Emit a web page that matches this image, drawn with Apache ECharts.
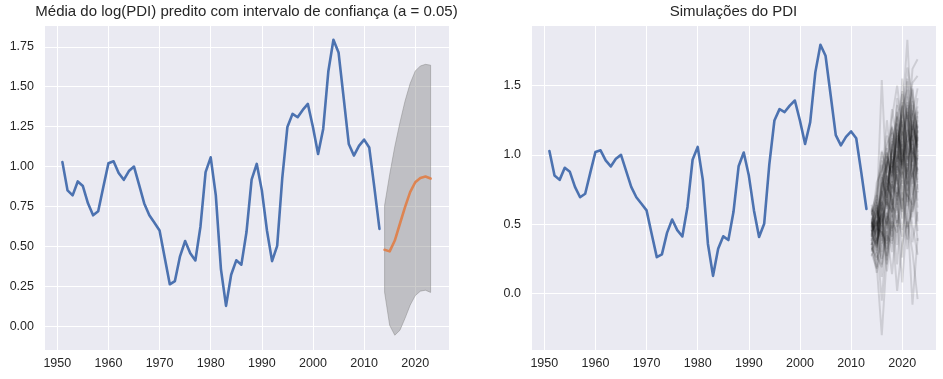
<!DOCTYPE html>
<html><head><meta charset="utf-8">
<script src="https://cdn.jsdelivr.net/npm/echarts@6/dist/echarts.min.js"></script>
<style>html,body{margin:0;padding:0;background:#fff}#c{width:943px;height:379px}</style>
</head><body><div id="c"></div>
<script>
// ---------- data ----------
const histYears = [1951,1952,1953,1954,1955,1956,1957,1958,1959,1960,
  1961,1962,1963,1964,1965,1966,1967,1968,1969,1970,
  1971,1972,1973,1974,1975,1976,1977,1978,1979,1980,
  1981,1982,1983,1984,1985,1986,1987,1988,1989,1990,
  1991,1992,1993,1994,1995,1996,1997,1998,1999,2000,
  2001,2002,2003,2004,2005,2006,2007,2008,2009,2010,
  2011,2012,2013];
const histLogPDI = [1.028,0.851,0.820,0.907,0.878,0.770,0.695,0.720,0.872,1.021,
  1.033,0.960,0.917,0.972,1.000,0.885,0.769,0.695,0.648,0.600,
  0.430,0.263,0.283,0.438,0.534,0.458,0.412,0.625,0.965,1.058,
  0.820,0.358,0.128,0.323,0.413,0.386,0.590,0.918,1.017,0.851,
  0.600,0.408,0.503,0.930,1.248,1.330,1.309,1.355,1.392,1.246,
  1.079,1.236,1.595,1.794,1.715,1.430,1.142,1.069,1.130,1.169,
  1.120,0.870,0.610];
const fcYears = [2014,2015,2016,2017,2018,2019,2020,2021,2022,2023];
const fcMean  = [0.479,0.469,0.537,0.642,0.746,0.840,0.902,0.929,0.938,0.925];
const fcUpper = [0.756,0.950,1.125,1.275,1.410,1.520,1.598,1.630,1.640,1.635];
const fcLower = [0.214,0.006,-0.056,-0.025,0.050,0.132,0.192,0.220,0.226,0.212];
const simPaths = [
  [0.45,0.62,0.38,0.81,0.95,0.72,1.10,0.88,1.21,1.05],
  [0.52,0.31,0.66,0.49,0.88,1.12,0.79,1.34,1.02,0.96],
  [0.38,0.55,0.12,0.58,0.47,0.93,1.25,0.71,0.64,1.18],
  [0.61,0.44,0.79,0.95,0.63,0.58,0.97,1.15,1.39,0.82],
  [0.29,0.18,0.45,0.32,0.71,0.86,0.54,0.99,0.77,1.28],
  [0.47,0.70,0.93,0.61,1.08,0.81,1.29,1.06,0.90,0.67],
  [0.55,0.39,-0.05,0.42,0.36,0.69,0.82,0.48,1.11,0.88],
  [0.41,0.58,0.71,1.02,0.84,1.19,0.95,1.42,1.18,1.35],
  [0.64,0.49,0.57,0.38,0.92,0.64,1.08,0.85,0.59,0.74],
  [0.33,0.26,0.84,0.71,0.55,1.03,0.67,1.22,1.47,1.09],
  [0.49,0.66,0.41,0.89,1.21,0.97,1.38,1.02,0.83,1.14],
  [0.42,0.35,0.62,0.27,0.68,0.51,0.88,0.63,1.05,0.52],
  [0.58,0.74,1.02,0.83,0.76,1.31,1.14,1.55,1.28,1.06],
  [0.36,0.15,0.33,0.56,0.41,0.77,0.59,0.94,0.71,0.98],
  [0.51,0.43,0.70,1.14,0.97,0.79,1.22,0.86,1.16,1.41],
  [0.27,0.40,0.25,0.48,0.81,0.62,0.46,0.81,0.37,0.59],
  [0.46,0.59,1.54,0.77,1.05,1.27,0.92,1.18,0.98,0.80],
  [0.39,0.21,-0.30,0.29,0.52,0.44,0.73,0.39,0.68,0.91],
  [0.57,0.68,0.48,0.66,0.59,0.98,1.35,1.09,1.32,1.19],
  [0.44,0.51,0.77,0.94,1.33,1.09,0.86,1.29,0.95,1.22],
  [0.31,0.47,0.58,0.21,0.62,0.35,0.97,0.58,0.87,0.45],
  [0.53,0.36,0.53,0.85,0.73,1.16,1.03,0.79,1.24,1.02],
  [0.48,0.80,0.89,1.07,1.19,0.91,1.46,1.26,1.52,1.57],
  [0.40,0.28,0.19,0.52,0.30,0.57,0.41,0.72,0.49,0.28],
  [0.62,0.55,0.65,0.99,0.87,1.41,1.19,0.97,1.08,0.86],
  [0.35,0.47,0.44,0.36,0.79,0.70,1.01,1.36,0.79,1.13],
  [0.50,0.63,0.96,0.74,0.99,0.83,0.61,1.05,1.36,0.97],
  [0.43,0.33,0.52,0.68,0.45,1.22,0.89,0.66,0.93,0.62],
  [0.59,0.71,0.61,0.47,1.12,0.89,1.55,1.20,1.01,1.31],
  [0.37,0.24,0.37,0.80,0.66,0.48,0.78,0.47,0.61,0.79],
  [0.54,0.46,0.82,1.25,0.91,1.07,1.28,1.83,1.12,0.93],
  [0.45,0.52,0.30,0.59,0.38,0.73,0.26,0.91,0.55,1.03],
  [0.30,0.41,0.68,0.92,1.03,1.28,1.11,0.74,1.29,1.48],
  [0.60,0.38,0.49,0.24,0.57,0.21,0.69,0.32,0.77,0.38],
  [0.47,0.57,0.74,0.63,1.16,0.95,1.33,1.47,1.10,1.25],
  [0.41,0.64,0.21,0.45,0.14,0.53,0.08,0.58,-0.08,0.40],
  [0.52,0.45,0.88,1.01,0.80,1.14,0.93,1.12,1.62,1.69],
  [0.34,0.19,0.54,0.16,0.49,0.02,0.36,0.52,0.30,-0.04],
  [0.56,0.67,1.03,0.87,1.27,1.50,1.20,1.63,1.41,1.16],
  [0.44,0.34,0.60,0.77,0.70,0.60,1.04,0.83,1.19,0.73],
  [0.50,0.42,0.63,0.90,1.20,1.05,1.36,0.96,1.48,1.10],
  [0.43,0.60,0.49,0.72,1.01,1.36,0.90,1.53,1.07,1.32],
  [0.47,0.29,0.72,1.05,0.64,1.26,1.44,1.01,1.25,0.99],
  [0.39,0.53,0.36,0.62,0.90,1.18,1.00,0.78,0.97,1.21],
  [0.58,0.48,0.80,0.69,1.04,0.87,1.13,1.31,0.84,1.00],
  [0.46,0.37,0.58,0.85,0.58,0.92,0.83,1.09,1.14,0.75],
  [0.53,0.64,0.42,0.73,0.97,0.67,1.24,0.92,1.30,1.07],
  [0.35,0.50,0.67,0.50,0.76,1.00,0.94,0.70,1.03,0.89],
  [0.49,0.40,0.55,0.96,0.85,1.23,1.06,1.38,0.92,1.17],
  [0.42,0.56,0.86,0.64,1.10,0.78,1.17,0.95,1.22,1.03]
];
const xTickValues = [1950,1960,1970,1980,1990,2000,2010,2020];
const leftYTicks  = [0,0.25,0.5,0.75,1.0,1.25,1.5,1.75];
const leftYLabels = ['0.00','0.25','0.50','0.75','1.00','1.25','1.50','1.75'];
const rightYTicks  = [0,0.5,1.0,1.5];
const rightYLabels = ['0.0','0.5','1.0','1.5'];
const titles = ['Média do log(PDI) predito com intervalo de confiança (a = 0.05)', 'Simulações do PDI'];

// ---------- helpers ----------
const FONT = 'Liberation Sans, Arial, sans-serif';
const TXT = '#262626';
function pick(ticks, labels) {
  return function (v) {
    for (let i = 0; i < ticks.length; i++) if (Math.abs(ticks[i] - v) < 1e-6) return labels[i];
    return '';
  };
}
const xLabelFmt = pick(xTickValues, xTickValues.map(String));
const pairs = (xs, ys) => xs.map((x, i) => [x, ys[i]]);

function xAxisCfg(gi) {
  return {
    type: 'value', gridIndex: gi, min: 1947.4, max: 2026.6,
    splitNumber: 8, minInterval: 10, maxInterval: 10,
    axisLine: {show: false}, axisTick: {show: false},
    axisLabel: {formatter: xLabelFmt, color: TXT, fontFamily: FONT, fontSize: 12.5, margin: 7},
    splitLine: {show: true, lineStyle: {color: '#ffffff', width: 1}}
  };
}
function yAxisCfg(gi, min, max, step, ticks, labels) {
  return {
    type: 'value', gridIndex: gi, min: min, max: max,
    minInterval: step, maxInterval: step, splitNumber: 8,
    axisLine: {show: false}, axisTick: {show: false},
    axisLabel: {formatter: pick(ticks, labels), color: TXT, fontFamily: FONT, fontSize: 12.5, margin: 10},
    splitLine: {show: true, lineStyle: {color: '#ffffff', width: 1}}
  };
}

const series = [];
// left panel
series.push({
  type: 'custom', xAxisIndex: 0, yAxisIndex: 0, silent: true, z: 2,
  data: [[fcYears[0], fcMean[0]]],
  renderItem: function (params, api) {
    const pts = [];
    for (let i = 0; i < fcYears.length; i++) pts.push(api.coord([fcYears[i], fcUpper[i]]));
    for (let i = fcYears.length - 1; i >= 0; i--) pts.push(api.coord([fcYears[i], fcLower[i]]));
    return {type: 'polygon', shape: {points: pts},
      style: {fill: 'rgba(128,128,128,0.40)', stroke: 'rgba(128,128,128,0.45)', lineWidth: 1}};
  }
});
series.push({
  type: 'line', xAxisIndex: 0, yAxisIndex: 0, data: pairs(histYears, histLogPDI),
  showSymbol: false, symbol: 'none', z: 3,
  lineStyle: {color: '#4C72B0', width: 2.6, join: 'round', cap: 'round'}
});
series.push({
  type: 'line', xAxisIndex: 0, yAxisIndex: 0, data: pairs(fcYears, fcMean),
  showSymbol: false, symbol: 'none', z: 4,
  lineStyle: {color: '#DD8452', width: 2.6, join: 'round', cap: 'round'}
});
// right panel
series.push({
  type: 'line', xAxisIndex: 1, yAxisIndex: 1, data: pairs(histYears, histLogPDI),
  showSymbol: false, symbol: 'none', z: 3,
  lineStyle: {color: '#4C72B0', width: 2.6, join: 'round', cap: 'round'}
});
simPaths.forEach(function (p) {
  series.push({
    type: 'line', xAxisIndex: 1, yAxisIndex: 1, data: pairs(fcYears, p),
    showSymbol: false, symbol: 'none', silent: true, z: 4,
    lineStyle: {color: '#000000', width: 2, opacity: 0.12}
  });
});

const chart = echarts.init(document.getElementById('c'), null, {renderer: 'canvas'});
chart.setOption({
  animation: false,
  backgroundColor: '#ffffff',
  title: [
    {text: titles[0], left: 246.5, top: 4, textAlign: 'center', padding: 0,
     textStyle: {fontFamily: FONT, fontSize: 15, fontWeight: 'normal', color: TXT}},
    {text: titles[1], left: 733.5, top: 4, textAlign: 'center', padding: 0,
     textStyle: {fontFamily: FONT, fontSize: 15, fontWeight: 'normal', color: TXT}}
  ],
  grid: [
    {left: 44, top: 25, width: 405, height: 325, show: true, backgroundColor: '#EAEAF2', borderWidth: 0, containLabel: false},
    {left: 531, top: 25, width: 405, height: 325, show: true, backgroundColor: '#EAEAF2', borderWidth: 0, containLabel: false}
  ],
  xAxis: [xAxisCfg(0), xAxisCfg(1)],
  yAxis: [
    yAxisCfg(0, -0.1485, 1.8865, 0.25, leftYTicks, leftYLabels),
    yAxisCfg(1, -0.4065, 1.9365, 0.5, rightYTicks, rightYLabels)
  ],
  series: series
});
</script>
</body></html>
